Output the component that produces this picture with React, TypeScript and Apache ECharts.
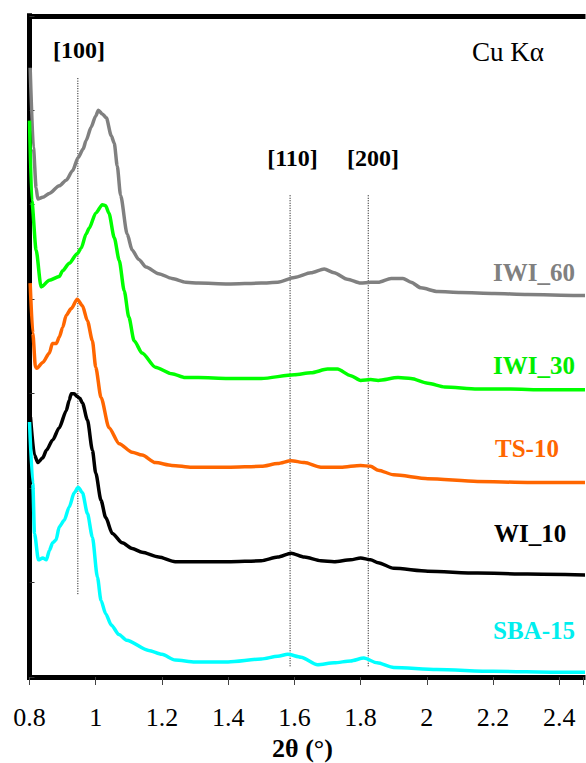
import React, { useEffect, useRef } from "react";
import * as echarts from "echarts";

// ---- Data (2θ in degrees, stacked intensity in arbitrary units) ----
const xTickLabels = ["0.8", "1", "1.2", "1.4", "1.6", "1.8", "2", "2.2", "2.4"];

const iwi60: [number, number][] = [
  [0.802, 6.45], [0.812, 5.6], [0.82, 5.18], [0.825, 5.06], [0.84, 5.08], [0.86, 5.12],
  [0.89, 5.2], [0.911, 5.26], [0.93, 5.36], [0.947, 5.5], [0.962, 5.59], [0.971, 5.68],
  [0.986, 5.82], [1.0, 5.94], [1.008, 6.0], [1.02, 5.96], [1.032, 5.92], [1.047, 5.73],
  [1.056, 5.65], [1.065, 5.41], [1.075, 5.1], [1.095, 4.69], [1.11, 4.52], [1.13, 4.42],
  [1.152, 4.34], [1.19, 4.27], [1.23, 4.22], [1.272, 4.18], [1.31, 4.17], [1.4, 4.16],
  [1.5, 4.17], [1.55, 4.18], [1.6, 4.23], [1.65, 4.28], [1.69, 4.32], [1.72, 4.28],
  [1.76, 4.21], [1.8, 4.17], [1.83, 4.18], [1.853, 4.18], [1.892, 4.22], [1.928, 4.22],
  [1.952, 4.18], [1.982, 4.12], [2.033, 4.08], [2.102, 4.07], [2.204, 4.06], [2.304, 4.05],
  [2.454, 4.04], [2.48, 4.04],
];

const iwi30: [number, number][] = [
  [0.8, 5.89], [0.807, 5.04], [0.82, 4.52], [0.835, 4.13], [0.86, 4.2], [0.89, 4.24],
  [0.9, 4.3], [0.92, 4.38], [0.944, 4.48], [0.956, 4.54], [0.971, 4.69], [0.98, 4.75],
  [1.0, 4.91], [1.02, 5.0], [1.03, 4.99], [1.04, 4.91], [1.056, 4.65], [1.071, 4.41],
  [1.086, 4.09], [1.1, 3.81], [1.116, 3.56], [1.14, 3.43], [1.18, 3.28], [1.23, 3.21],
  [1.27, 3.17], [1.31, 3.17], [1.4, 3.16], [1.5, 3.16], [1.6, 3.2], [1.65, 3.22],
  [1.7, 3.26], [1.73, 3.26], [1.77, 3.19], [1.8, 3.14], [1.83, 3.15], [1.853, 3.14],
  [1.913, 3.17], [1.952, 3.16], [2.003, 3.11], [2.054, 3.07], [2.153, 3.05], [2.253, 3.05],
  [2.355, 3.04], [2.48, 3.04],
];

const ts10: [number, number][] = [
  [0.802, 4.17], [0.81, 3.64], [0.818, 3.28], [0.822, 3.27], [0.84, 3.33], [0.86, 3.43],
  [0.869, 3.53], [0.881, 3.53], [0.89, 3.6], [0.9, 3.7], [0.911, 3.83], [0.926, 3.9],
  [0.944, 4.0], [0.96, 3.93], [0.975, 3.77], [0.99, 3.56], [1.0, 3.28], [1.016, 2.96],
  [1.04, 2.64], [1.071, 2.47], [1.11, 2.38], [1.14, 2.35], [1.18, 2.27], [1.23, 2.24],
  [1.29, 2.22], [1.4, 2.22], [1.5, 2.23], [1.55, 2.26], [1.59, 2.29], [1.63, 2.27],
  [1.68, 2.22], [1.74, 2.22], [1.8, 2.24], [1.83, 2.23], [1.853, 2.19], [1.9, 2.14],
  [2.003, 2.1], [2.153, 2.07], [2.304, 2.06], [2.48, 2.06],
];

const wi10: [number, number][] = [
  [0.803, 2.75], [0.815, 2.35], [0.825, 2.27], [0.84, 2.32], [0.851, 2.4], [0.87, 2.51],
  [0.89, 2.64], [0.911, 2.82], [0.92, 2.93], [0.926, 3.0], [0.935, 3.0], [0.944, 2.97],
  [0.952, 2.95], [0.96, 2.9], [0.975, 2.72], [0.99, 2.4], [1.0, 2.16], [1.016, 1.87],
  [1.03, 1.69], [1.05, 1.52], [1.08, 1.42], [1.11, 1.36], [1.14, 1.32], [1.19, 1.27],
  [1.24, 1.22], [1.31, 1.22], [1.4, 1.22], [1.5, 1.23], [1.55, 1.27], [1.59, 1.31],
  [1.63, 1.27], [1.68, 1.23], [1.72, 1.22], [1.77, 1.24], [1.8, 1.26], [1.83, 1.24],
  [1.853, 1.21], [1.9, 1.15], [2.003, 1.12], [2.153, 1.1], [2.304, 1.09], [2.48, 1.08],
];

const sba15: [number, number][] = [
  [0.8, 2.7], [0.81, 2.05], [0.815, 1.52], [0.827, 1.24], [0.84, 1.26], [0.851, 1.24],
  [0.86, 1.34], [0.87, 1.42], [0.88, 1.45], [0.89, 1.59], [0.905, 1.66], [0.92, 1.8],
  [0.935, 1.95], [0.947, 2.01], [0.96, 1.95], [0.975, 1.73], [0.99, 1.48], [1.005, 1.06],
  [1.016, 0.81], [1.03, 0.67], [1.047, 0.55], [1.07, 0.45], [1.093, 0.39], [1.16, 0.28],
  [1.2, 0.24], [1.24, 0.18], [1.3, 0.16], [1.4, 0.16], [1.5, 0.19], [1.55, 0.22],
  [1.58, 0.24], [1.62, 0.21], [1.67, 0.13], [1.72, 0.15], [1.77, 0.17], [1.81, 0.2],
  [1.85, 0.15], [1.9, 0.1], [2.03, 0.08], [2.2, 0.06], [2.4, 0.05], [2.48, 0.05],
];

// reflection guide lines: [2θ, top, bottom]
const reflections: { name: string; x: number; top: number; bottom: number }[] = [
  { name: "[100]", x: 0.946, top: 6.34, bottom: 0.87 },
  { name: "[110]", x: 1.587, top: 5.1, bottom: 0.1 },
  { name: "[200]", x: 1.823, top: 5.1, bottom: 0.1 },
];

const seriesDefs = [
  { name: "IWI_60", data: iwi60, color: "#808080" },
  { name: "IWI_30", data: iwi30, color: "#00ff00" },
  { name: "TS-10", data: ts10, color: "#ff6600" },
  { name: "WI_10", data: wi10, color: "#000000" },
  { name: "SBA-15", data: sba15, color: "#00ffff" },
];

const SERIF = "'Liberation Serif', 'Times New Roman', serif";

export default function App() {
  const ref = useRef<HTMLDivElement>(null);

  useEffect(() => {
    if (!ref.current) return;
    const chart = echarts.init(ref.current, undefined, { renderer: "svg" });

    const fmt = (v: number) => {
      const k = Math.round(v * 5);
      if (Math.abs(v * 5 - k) > 1e-6) return "";
      const s = String(Math.round(v * 10) / 10);
      return xTickLabels.includes(s) ? s : "";
    };

    const lineSeries: any[] = seriesDefs.map((s) => ({
      type: "line",
      name: s.name,
      data: s.data,
      showSymbol: false,
      smooth: 0.25,
      smoothMonotone: "x",
      lineStyle: { color: s.color, width: 3.5 },
      itemStyle: { color: s.color },
      z: 3,
    }));

    const refSeries: any[] = reflections.map((r) => ({
      type: "line",
      name: r.name,
      data: [
        [r.x, r.top],
        [r.x, r.bottom],
      ],
      showSymbol: false,
      lineStyle: { color: "#000", width: 1, type: [1, 1.5] },
      z: 2,
    }));

    const labelText = (text: string, x: number, y: number, color: string, size: number, weight: string, align = "left") => ({
      type: "text",
      x,
      y,
      style: {
        text,
        fill: color,
        font: `${weight} ${size}px ${SERIF}`,
        textAlign: align,
        textVerticalAlign: "middle",
        align,
        verticalAlign: "middle",
      },
      z: 10,
    });

    chart.setOption({
      animation: false,
      backgroundColor: "#ffffff",
      grid: { left: 29.5, right: 0, top: 15.8, bottom: 86, containLabel: false },
      xAxis: [
        {
          type: "value",
          min: 0.8,
          max: 2.4716,
          interval: 0.2,
          position: "bottom",
          axisLine: { show: true, onZero: false, lineStyle: { color: "#000", width: 5, cap: "square" } },
          axisTick: { show: true, length: 8, lineStyle: { color: "#444", width: 1 } },
          axisLabel: { formatter: fmt, fontSize: 26, color: "#000", fontFamily: SERIF, margin: 27 },
          splitLine: { show: false },
        },
        {
          type: "value",
          min: 0.8,
          max: 2.4716,
          interval: 0.2,
          position: "top",
          axisLine: { show: true, onZero: false, lineStyle: { color: "#000", width: 5, cap: "square" } },
          axisTick: { show: false },
          axisLabel: { show: false },
          splitLine: { show: false },
        },
      ],
      yAxis: {
        type: "value",
        min: 0,
        max: 7,
        interval: 1,
        axisLine: { show: true, onZero: false, lineStyle: { color: "#000", width: 5, cap: "square" } },
        axisTick: { show: true, inside: true, length: 5, lineStyle: { color: "#333", width: 1 } },
        axisLabel: { show: false },
        splitLine: { show: false },
      },
      series: [...refSeries, ...lineSeries],
      graphic: [
        labelText("[100]", 79, 50, "#000", 24, "bold", "center"),
        labelText("[110]", 292.5, 158, "#000", 24, "bold", "center"),
        labelText("[200]", 373, 158, "#000", 24, "bold", "center"),
        labelText("Cu Kα", 472, 52, "#000", 27, "normal"),
        labelText("IWI_60", 493, 272, "#808080", 25, "bold"),
        labelText("IWI_30", 493, 365, "#00ee00", 25, "bold"),
        labelText("TS-10", 495, 448, "#ff6600", 25, "bold"),
        labelText("WI_10", 494, 533, "#000000", 25, "bold"),
        labelText("SBA-15", 493, 630, "#00eeee", 25, "bold"),
        labelText("2θ (°)", 302.5, 748, "#000", 26, "bold", "center"),
      ],
    });

    return () => chart.dispose();
  }, []);

  return (
    <div
      ref={ref}
      style={{ position: "absolute", left: 0, top: 0, width: 586, height: 763, background: "#fff" }}
    />
  );
}
